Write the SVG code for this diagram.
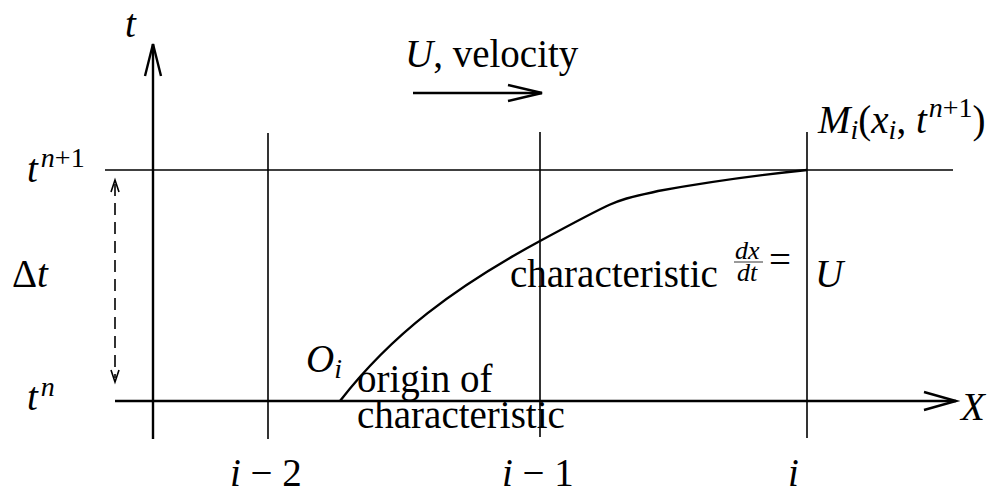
<svg xmlns="http://www.w3.org/2000/svg" width="1004" height="492" viewBox="0 0 1004 492">
<style>
.ax{stroke:#000;stroke-width:2.4;fill:none}
.ln{stroke:#000;stroke-width:1.6;fill:none}
.hd{stroke:#000;stroke-width:2.4;fill:none;stroke-linejoin:miter}
.tx{font-family:"Liberation Serif","DejaVu Serif",serif;font-size:39px;fill:#000}
.mi{font-style:italic}
.sm{font-size:28px}
.fr{font-size:26px}
</style>
<rect width="1004" height="492" fill="#fff"/>
<g id="connectors">
  <line class="ax" x1="153" y1="44" x2="153" y2="439"/>
  <path class="hd" d="M145,76 L153,44 L161,76"/>
  <line class="ax" x1="115" y1="401" x2="956" y2="401"/>
  <path class="hd" d="M924,392 L956,401 L924,410"/>
  <line class="ln" x1="105" y1="170" x2="953" y2="170" stroke-width="2"/>
  <line class="ln" x1="268" y1="133" x2="268" y2="439"/>
  <line class="ln" x1="540" y1="132" x2="540" y2="437"/>
  <line class="ln" x1="807" y1="132" x2="807" y2="438"/>
  <line class="ax" x1="413" y1="93" x2="542" y2="93"/>
  <path class="hd" d="M508,85 L542,93 L508,101"/>
  <line x1="115" y1="184" x2="115" y2="378" stroke="#000" stroke-width="1.6" stroke-dasharray="12,7"/>
  <path d="M111,192 L115,180 L119,192" fill="none" stroke="#000" stroke-width="1.6"/>
  <path d="M111,370 L115,382 L119,370" fill="none" stroke="#000" stroke-width="1.6"/>
  <path class="ax" d="M340,401 C392,334 455,287 540,241 S615,201 658,191 Q730,178 807,170"/>
  <line x1="734" y1="262" x2="763" y2="262" stroke="#000" stroke-width="0.8"/>
</g>
<g id="label-t"><text class="tx mi" x="125" y="37">t</text></g>
<g id="label-velocity"><text class="tx" x="405" y="67"><tspan class="mi">U</tspan>, velocity</text></g>
<g id="label-tn1"><text class="tx" x="27" y="182"><tspan class="mi">t</tspan><tspan class="mi sm" dx="3" dy="-15">n</tspan><tspan class="sm">+1</tspan></text></g>
<g id="label-dt"><text class="tx" x="12" y="287">Δ<tspan class="mi">t</tspan></text></g>
<g id="label-tn"><text class="tx" x="27" y="410"><tspan class="mi">t</tspan><tspan class="mi sm" dx="3" dy="-14">n</tspan></text></g>
<g id="label-Mi"><text class="tx" x="818" y="133" font-size="41px"><tspan class="mi">M</tspan><tspan class="mi sm" dy="6">i</tspan><tspan dy="-6">(</tspan><tspan class="mi">x</tspan><tspan class="mi sm" dy="6">i</tspan><tspan dy="-6">, </tspan><tspan class="mi">t</tspan><tspan class="mi sm" dx="2" dy="-16">n</tspan><tspan class="sm">+1</tspan><tspan dy="16">)</tspan></text></g>
<g id="label-characteristic"><text class="tx" x="510" y="287">characteristic</text>
  <text class="tx mi fr" x="735" y="259">dx</text>
  <text class="tx mi fr" x="737" y="281">dt</text>
  <text class="tx" x="769" y="273" font-size="44px">=</text>
  <text class="tx mi" x="815" y="287">U</text></g>
<g id="label-Oi"><text class="tx" x="306" y="372"><tspan class="mi">O</tspan><tspan class="mi sm" dy="6">i</tspan></text></g>
<g id="label-origin"><text class="tx" x="357" y="392">origin of</text><text class="tx" x="357" y="428">characteristic</text></g>
<g id="label-X"><text class="tx mi" x="961" y="420" font-size="46px">X</text></g>
<g id="label-i2"><text class="tx" x="230" y="486"><tspan class="mi">i</tspan> − 2</text></g>
<g id="label-i1"><text class="tx" x="502" y="486"><tspan class="mi">i</tspan> − 1</text></g>
<g id="label-i"><text class="tx mi" x="788" y="486">i</text></g>
</svg>
